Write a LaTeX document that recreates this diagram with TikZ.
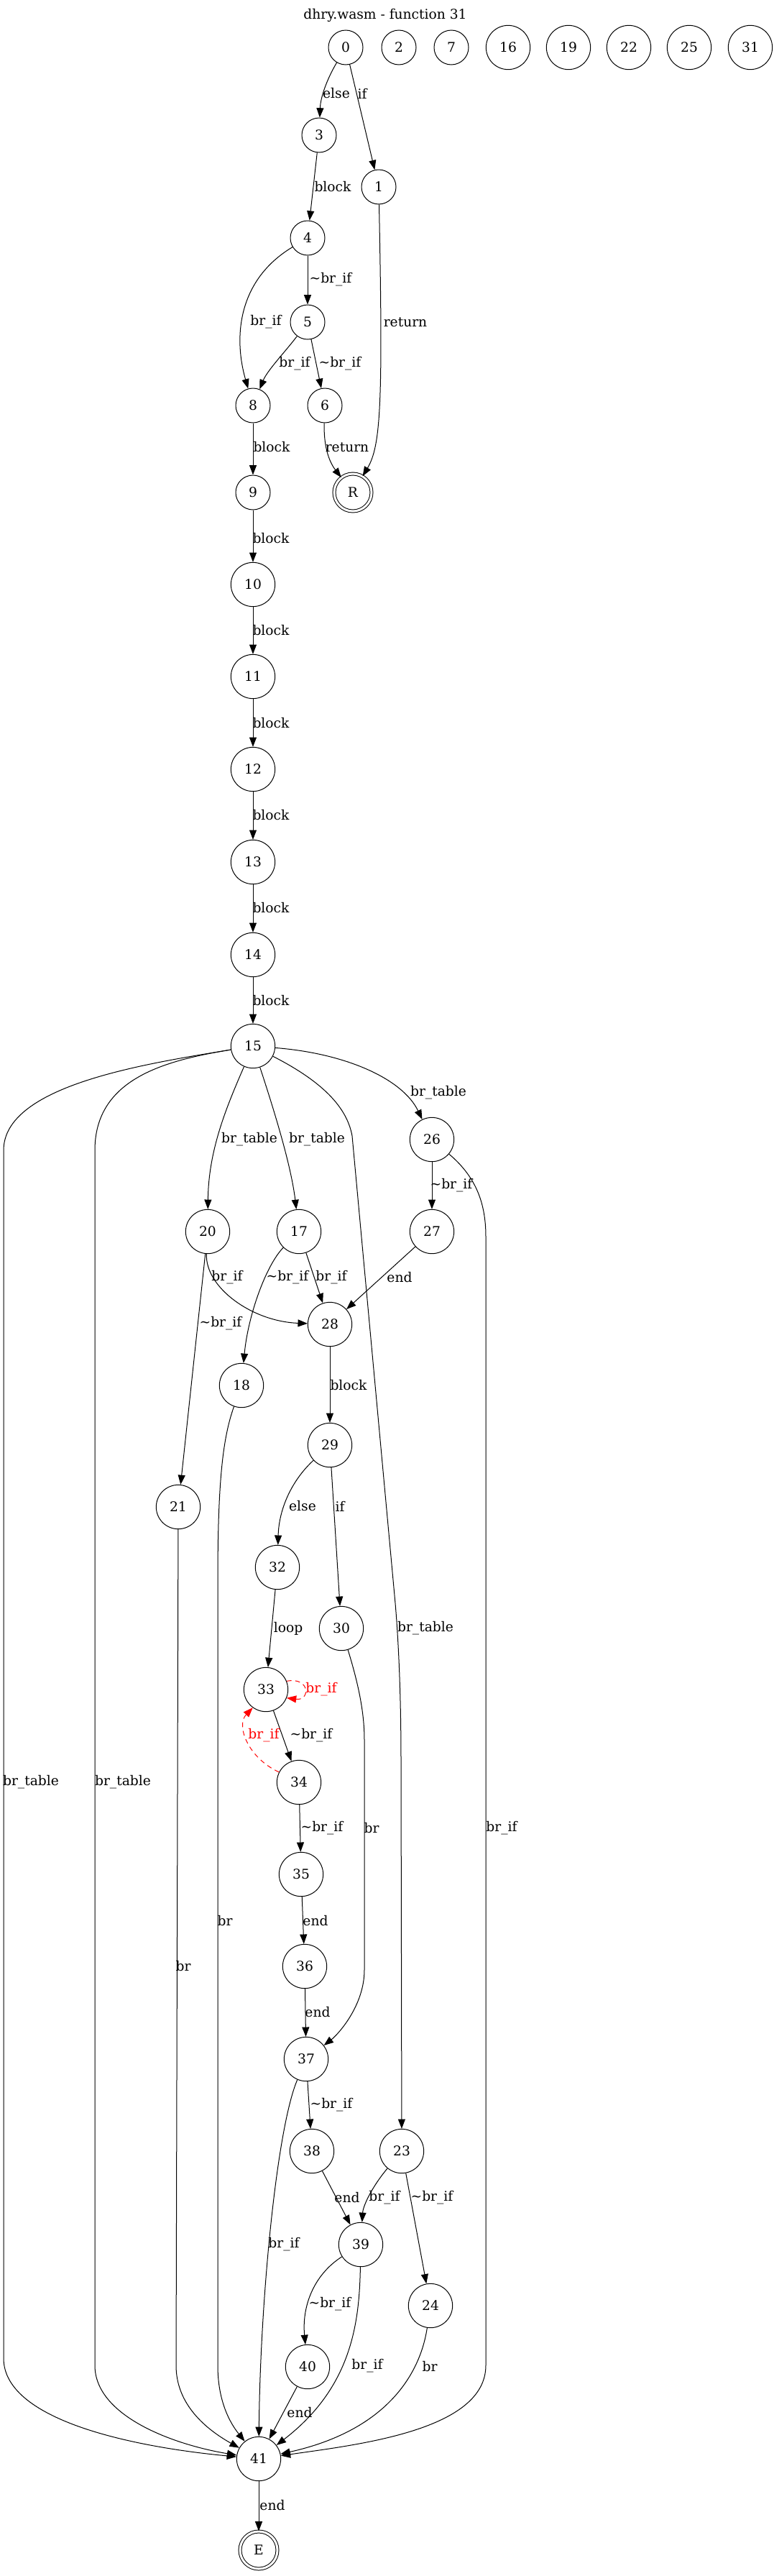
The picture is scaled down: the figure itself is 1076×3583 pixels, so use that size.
\documentclass[tikz,border=0pt]{standalone}
\usepackage{fontspec}
\setmainfont{DejaVu Serif}
\usetikzlibrary{arrows.meta}
\newcommand{\nbrif}{\textasciitilde br\_if}
\newcommand{\brif}{br\_if}
\newcommand{\brtable}{br\_table}
\begin{document}
\begin{tikzpicture}[x=0.75pt,y=-0.75pt,line width=0.75pt,font=\fontsize{14pt}{16pt}\selectfont]
            \tikzstyle{etat}=[circle,draw,minimum size=36pt,inner sep=0pt]
            \tikzstyle{etatd}=[etat,minimum size=46pt]
            \tikzstyle{fin}=[etat,double,double distance=2.25pt,minimum size=39pt]
            \tikzstyle{arc}=[-{Triangle[length=10pt,width=7.5pt]}]
            \tikzstyle{retour}=[arc,red,dash pattern=on 5pt off 4pt]
            \tikzstyle{etiq}=[inner sep=0pt]
            \useasboundingbox (0,0) rectangle (1076,3583);
            \node[etiq] (titre) at (536,21) {dhry.wasm - function 31};
            \node[etat] (0) at (481,66) {0};
            \node[etat] (2) at (555,66) {2};
            \node[etat] (7) at (628,66) {7};
            \node[etatd] (16) at (707,66) {16};
            \node[etatd] (19) at (791,66) {19};
            \node[etatd] (22) at (875,66) {22};
            \node[etatd] (25) at (959,66) {25};
            \node[etatd] (31) at (1044,66) {31};
            \node[etat] (3) at (444,188) {3};
            \node[etat] (1) at (527,260) {1};
            \node[etat] (4) at (428,331) {4};
            \node[etat] (5) at (428,448) {5};
            \node[etat] (8) at (352,564) {8};
            \node[etat] (6) at (452,564) {6};
            \node[fin] (R) at (491,685) {R};
            \node[etat] (9) at (352,685) {9};
            \node[etatd] (10) at (352,813) {10};
            \node[etatd] (11) at (352,941) {11};
            \node[etatd] (12) at (352,1070) {12};
            \node[etatd] (13) at (352,1199) {13};
            \node[etatd] (14) at (352,1328) {14};
            \node[etatd] (15) at (352,1455) {15};
            \node[etatd] (26) at (601,1585) {26};
            \node[etatd] (20) at (289,1713) {20};
            \node[etatd] (17) at (416,1713) {17};
            \node[etatd] (27) at (601,1713) {27};
            \node[etatd] (28) at (459,1842) {28};
            \node[etatd] (18) at (336,1927) {18};
            \node[etatd] (29) at (459,2010) {29};
            \node[etatd] (21) at (248,2096) {21};
            \node[etatd] (32) at (386,2180) {32};
            \node[etatd] (30) at (475,2265) {30};
            \node[etatd] (33) at (370,2350) {33};
            \node[etatd] (34) at (416,2479) {34};
            \node[etatd] (35) at (419,2607) {35};
            \node[etatd] (36) at (424,2735) {36};
            \node[etatd] (37) at (426,2864) {37};
            \node[etatd] (38) at (434,2992) {38};
            \node[etatd] (23) at (559,2992) {23};
            \node[etatd] (39) at (502,3122) {39};
            \node[etatd] (24) at (599,3207) {24};
            \node[etatd] (40) at (428,3292) {40};
            \node[etatd] (41) at (360,3420) {41};
            \node[fin] (E) at (360,3547) {E};
            \draw[arc] (0) .. controls (455,110) and (446,135) .. (3);
            \draw[arc] (0) -- (1);
            \draw[arc] (3) -- (4);
            \draw[arc] (1) .. controls (533,560) and (530,620) .. (R);
            \draw[arc] (4) .. controls (330,390) and (325,470) .. (8);
            \draw[arc] (4) -- (5);
            \draw[arc] (5) .. controls (398,488) and (372,515) .. (8);
            \draw[arc] (5) -- (6);
            \draw[arc] (6) .. controls (450,625) and (460,645) .. (R);
            \draw[arc] (8) -- (9);
            \draw[arc] (9) -- (10);
            \draw[arc] (10) -- (11);
            \draw[arc] (11) -- (12);
            \draw[arc] (12) -- (13);
            \draw[arc] (13) -- (14);
            \draw[arc] (14) -- (15);
            \draw[arc] (15) .. controls (200,1480) and (5,1510) .. (5,1600) -- (5,3280) .. controls (5,3370) and (200,3405) .. (41);
            \draw[arc] (15) .. controls (230,1475) and (132,1500) .. (132,1600) -- (132,3290) .. controls (132,3360) and (240,3400) .. (41);
            \draw[arc] (15) .. controls (315,1540) and (290,1600) .. (20);
            \draw[arc] (15) .. controls (380,1540) and (405,1620) .. (17);
            \draw[arc] (15) .. controls (440,1500) and (482,1535) .. (490,1580) -- (550,2230) .. controls (556,2300) and (558,2380) .. (558,2450) -- (23);
            \draw[arc] (15) .. controls (480,1465) and (560,1500) .. (26);
            \draw[arc] (26) -- (27);
            \draw[arc] (26) .. controls (660,1635) and (676,1670) .. (676,1720) -- (676,3290) .. controls (676,3380) and (500,3400) .. (41);
            \draw[arc] (27) -- (28);
            \draw[arc] (20) .. controls (285,1790) and (350,1838) .. (28);
            \draw[arc] (20) -- (21);
            \draw[arc] (17) .. controls (370,1760) and (345,1830) .. (18);
            \draw[arc] (17) -- (28);
            \draw[arc] (28) -- (29);
            \draw[arc] (18) .. controls (310,2000) and (303,2060) .. (303,2200) -- (303,3290) .. controls (303,3340) and (320,3370) .. (41);
            \draw[arc] (21) -- (245,3290) .. controls (245,3340) and (280,3375) .. (41);
            \draw[arc] (29) .. controls (405,2060) and (388,2100) .. (32);
            \draw[arc] (29) -- (30);
            \draw[arc] (32) -- (33);
            \draw[arc] (30) .. controls (498,2340) and (507,2380) .. (507,2420) -- (507,2740) .. controls (507,2790) and (470,2830) .. (37);
            \draw[retour] (33.22) .. controls (432,2332) and (432,2366) .. (33.-22);
            \draw[retour] (34.153) .. controls (345,2445) and (328,2400) .. (33.-126);
            \draw[arc] (33) -- (34);
            \draw[arc] (34) -- (35);
            \draw[arc] (35) -- (36);
            \draw[arc] (36) -- (37);
            \draw[arc] (37) -- (38);
            \draw[arc] (37) .. controls (385,2960) and (362,3200) .. (41);
            \draw[arc] (38) -- (39);
            \draw[arc] (23) .. controls (515,3045) and (505,3070) .. (39);
            \draw[arc] (23) -- (24);
            \draw[arc] (39) .. controls (435,3165) and (420,3210) .. (40);
            \draw[arc] (39) .. controls (500,3230) and (490,3320) .. (41);
            \draw[arc] (40) -- (41);
            \draw[arc] (24) .. controls (585,3300) and (540,3380) .. (41);
            \draw[arc] (41) -- (E);
            \node[etiq] (l03) at (468,130) {else};
            \node[etiq] (l01) at (504,130) {if};
            \node[etiq] (l34) at (463,260) {block};
            \node[etiq] (l45) at (460,389) {\nbrif};
            \node[etiq] (l48) at (370,448) {\brif};
            \node[etiq] (l1R) at (564,448) {return};
            \node[etiq] (l58) at (410,506) {\brif};
            \node[etiq] (l56) at (473,506) {\nbrif};
            \node[etiq] (l89) at (378,622) {block};
            \node[etiq] (l6R) at (483,622) {return};
            \node[etiq] (l910) at (377,749) {block};
            \node[etiq] (l1011) at (377,877) {block};
            \node[etiq] (l1112) at (377,1006) {block};
            \node[etiq] (l1213) at (377,1134) {block};
            \node[etiq] (l1314) at (377,1263) {block};
            \node[etiq] (l1415) at (377,1392) {block};
            \node[etiq] (l1526) at (610,1520) {\brtable};
            \node[etiq] (l1520) at (347,1585) {\brtable};
            \node[etiq] (l1517) at (441,1585) {\brtable};
            \node[etiq] (l2627) at (628,1649) {\nbrif};
            \node[etiq] (l2028) at (316,1777) {\brif};
            \node[etiq] (l1718) at (400,1777) {\nbrif};
            \node[etiq] (l1728) at (461,1777) {\brif};
            \node[etiq] (l2728) at (556,1777) {end};
            \node[etiq] (l2021) at (307,1841) {\nbrif};
            \node[etiq] (l2829) at (485,1927) {block};
            \node[etiq] (l2932) at (421,2095) {else};
            \node[etiq] (l2930) at (473,2095) {if};
            \node[etiq] (l3233) at (401,2265) {loop};
            \node[etiq] (l1523) at (592,2265) {\brtable};
            \node[etiq,text=red] (l3333) at (447,2350) {\brif};
            \node[etiq,text=red] (l3433) at (367,2414) {\brif};
            \node[etiq] (l3334) at (433,2414) {\nbrif};
            \node[etiq] (l1541a) at (43,2479) {\brtable};
            \node[etiq] (l1541b) at (171,2479) {\brtable};
            \node[etiq] (l3435) at (448,2543) {\nbrif};
            \node[etiq] (l3037) at (517,2543) {br};
            \node[etiq] (l2641) at (698,2543) {\brif};
            \node[etiq] (l3536) at (439,2672) {end};
            \node[etiq] (l1841) at (313,2672) {br};
            \node[etiq] (l2141) at (255,2735) {br};
            \node[etiq] (l3637) at (442,2799) {end};
            \node[etiq] (l3738) at (461,2928) {\nbrif};
            \node[etiq] (l3839) at (483,3057) {end};
            \node[etiq] (l2339) at (535,3057) {\brif};
            \node[etiq] (l2324) at (601,3057) {\nbrif};
            \node[etiq] (l3741) at (395,3122) {\brif};
            \node[etiq] (l3940) at (459,3205) {\nbrif};
            \node[etiq] (l3941) at (511,3291) {\brif};
            \node[etiq] (l2441) at (598,3291) {br};
            \node[etiq] (l4041) at (417,3355) {end};
            \node[etiq] (l41E) at (379,3484) {end};
        \end{tikzpicture}
\end{document}
